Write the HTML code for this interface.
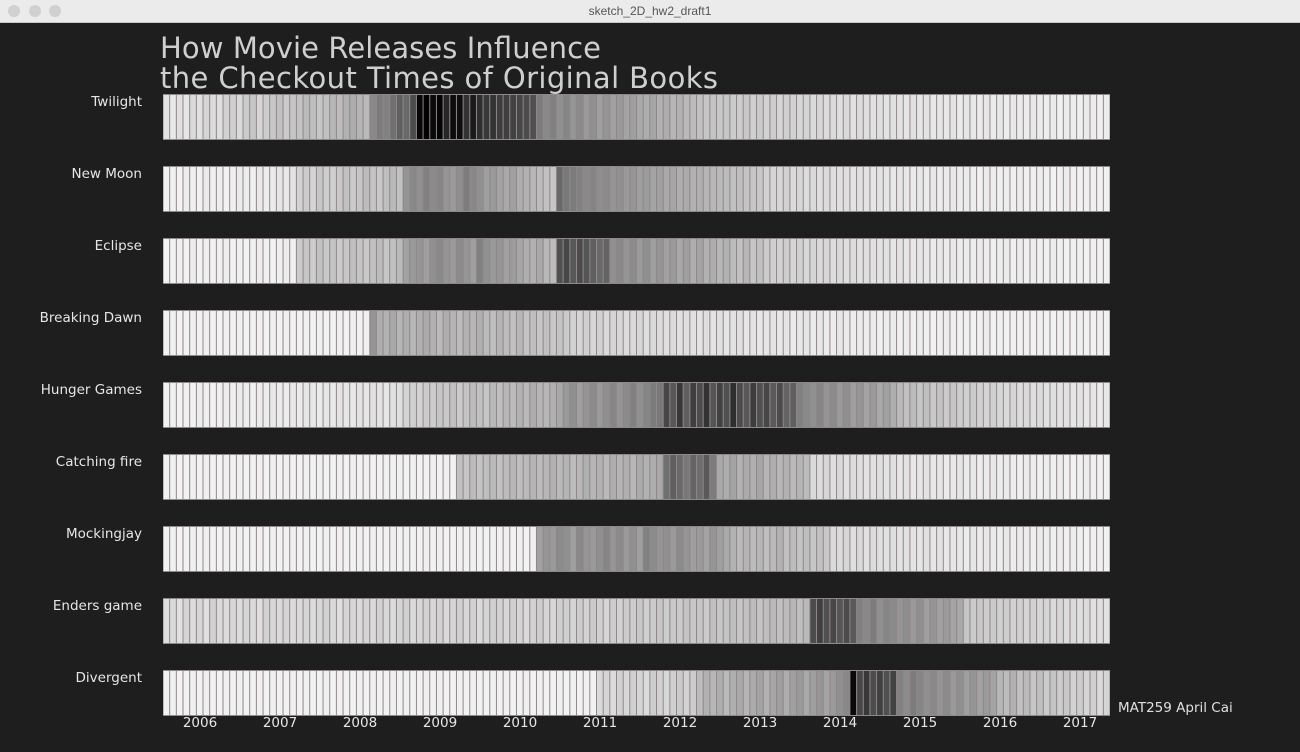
<!DOCTYPE html>
<html><head><meta charset="utf-8"><style>
html,body{margin:0;padding:0;width:1300px;height:752px;overflow:hidden;background:#1e1e1e;font-family:"DejaVu Sans","Liberation Sans",sans-serif}
#bar{position:absolute;left:0;top:0;width:1300px;height:22px;background:#ebebeb;border-bottom:1px solid #c8c8c8}
.dot{position:absolute;top:5px;width:12px;height:12px;border-radius:50%;background:#d0d0d0}
#wt{position:absolute;top:4px;width:1300px;text-align:center;font-size:12px;color:#555;font-family:"Liberation Sans",sans-serif}
svg{position:absolute;left:0;top:0;font-family:"DejaVu Sans","Liberation Sans",sans-serif}
</style></head><body>
<div id="bar">
<div class="dot" style="left:8px"></div>
<div class="dot" style="left:29px"></div>
<div class="dot" style="left:49px"></div>
<div id="wt">sketch_2D_hw2_draft1</div>
</div>
<svg id="chart" width="1300" height="752">
<text x="160" y="58" font-size="29" fill="#cfcfcf" textLength="441">How Movie Releases Influence</text>
<text x="160" y="88" font-size="29" fill="#cfcfcf" textLength="558">the Checkout Times of Original Books</text>
<text x="1118" y="712" font-size="13.5" fill="#e0e0e0">MAT259 April Cai</text>
</svg>
<script>
const books=["Twilight","New Moon","Eclipse","Breaking Dawn","Hunger Games","Catching fire","Mockingjay","Enders game","Divergent"];
const years=["2006","2007","2008","2009","2010","2011","2012","2013","2014","2015","2016","2017"];
const twilight=[8,6,10,7,12,9,14,11,10,15,16,12,18,20,14,17,19,22,18,20,21,25,23,20,22,26,24,28,30,27,25,45,50,48,55,62,58,70,98,100,97,99,85,96,95,80,90,82,78,80,76,75,74,72,70,68,50,45,48,42,46,40,44,38,42,36,40,35,38,34,36,32,30,33,28,30,26,28,25,24,22,20,21,19,20,18,17,19,16,18,15,17,14,16,15,13,14,12,13,11,12,10,12,9,11,10,9,10,8,9,8,7,9,7,8,6,7,6,8,5,7,6,5,7,5,6,4,6,5,4,6,5,4,5,3,5,4,3,5,4,3,4];
const newMoon=[2,3,2,4,3,2,5,3,4,2,3,5,4,3,6,4,5,7,6,8,15,18,14,20,17,16,19,22,18,20,24,21,19,23,25,22,40,45,42,48,44,46,40,38,43,50,45,42,36,38,34,32,35,30,28,26,24,22,20,58,52,50,48,45,47,43,44,40,42,38,40,36,37,34,35,32,33,30,31,28,29,27,26,25,24,22,23,21,20,19,15,14,13,15,12,13,11,12,10,11,10,9,10,8,9,8,7,8,7,6,7,6,5,6,5,6,4,5,6,4,5,4,3,5,4,3,4,3,4,3,3,4,3,2,3,4,3,2,3,3,2,3];
const eclipse=[2,2,3,2,4,2,3,2,3,4,2,3,2,3,4,3,2,3,4,3,18,20,17,22,19,21,18,20,23,21,19,22,24,20,22,25,35,38,40,36,42,45,40,38,44,40,36,48,42,38,40,35,37,33,30,28,32,26,24,68,72,65,70,66,62,58,60,42,45,40,44,38,42,36,40,35,38,32,36,30,34,28,30,26,28,24,22,26,20,22,18,16,15,17,14,15,13,14,12,13,11,12,10,11,9,10,9,8,9,7,8,7,6,7,6,5,6,5,6,4,5,4,5,4,3,4,5,3,4,3,4,3,3,4,3,2,3,3,2,3,2,3];
const breakingDawn=[2,3,2,2,3,2,3,2,2,3,2,3,2,2,3,2,3,2,3,2,2,3,2,3,2,2,3,2,3,2,3,40,30,28,32,27,30,26,29,31,28,25,30,27,24,28,26,29,25,23,27,24,22,26,21,23,20,22,19,21,18,15,14,16,13,15,12,14,13,11,12,13,10,12,11,10,11,9,10,9,8,10,8,9,7,8,9,7,8,6,7,8,6,7,5,6,7,5,6,5,4,6,5,4,5,4,5,3,4,5,3,4,3,4,3,2,3,4,3,2,3,2,3,4,2,3,2,3,2,3,2,3,2,2,3,2,2,3,2,2,3,2];
const hungerGames=[2,3,2,3,2,4,3,2,3,4,3,5,4,3,5,4,6,5,4,6,5,7,6,5,7,6,8,7,6,8,7,9,8,7,9,10,14,16,15,18,17,20,19,22,18,21,24,22,20,25,23,26,24,28,25,30,27,26,29,32,38,42,36,40,44,38,42,46,40,44,48,42,46,50,52,72,65,78,62,75,70,80,66,74,68,82,70,65,76,68,72,64,70,60,62,48,45,42,46,40,44,38,42,36,40,34,38,32,35,30,25,22,24,20,23,19,21,18,20,17,16,18,15,14,16,13,12,14,11,12,10,11,9,10,8,9,7,8,6,7,5,6];
const catchingFire=[2,3,2,2,3,2,3,2,2,3,2,3,2,2,3,2,3,2,3,2,2,3,2,3,2,2,3,2,3,2,3,2,2,3,2,3,2,3,2,2,3,2,3,2,22,20,24,21,23,25,22,24,26,23,25,27,24,26,28,25,27,24,26,29,26,28,25,30,27,29,26,31,28,30,32,55,62,58,52,60,56,64,50,32,30,34,28,31,29,33,27,30,26,28,25,27,24,12,11,13,10,12,9,11,10,8,9,10,8,9,7,8,6,7,8,6,7,5,6,7,5,6,4,5,6,4,5,4,3,5,4,3,4,3,4,3,2,3,4,3,2,3];
const mockingjay=[2,3,2,2,3,2,3,2,2,3,2,3,2,2,3,2,3,2,2,3,2,3,2,2,3,2,3,2,2,3,2,3,2,2,3,2,3,2,2,3,2,3,2,2,3,2,3,2,2,3,2,3,2,3,2,3,35,40,38,44,42,36,45,40,38,42,46,40,44,38,42,36,48,44,40,42,38,44,40,36,38,34,40,36,32,28,25,27,24,26,23,25,28,22,24,21,23,20,22,19,12,11,13,10,12,9,11,10,9,10,8,9,8,7,9,7,8,6,7,6,5,7,5,6,5,4,6,4,5,4,3,5,4,3,4,3,4,3,2,3,3,2];
const endersGame=[10,12,9,14,11,13,10,15,12,11,13,11,14,12,10,15,13,12,14,11,12,14,11,13,15,12,10,14,13,12,14,12,15,13,11,14,16,12,13,15,13,15,12,14,16,13,15,12,14,16,15,13,16,14,12,15,17,14,13,16,16,14,17,15,18,16,14,17,15,18,17,19,16,18,20,17,19,18,21,19,20,18,22,19,21,23,20,22,24,21,23,25,22,24,26,23,25,70,75,68,72,66,70,64,48,45,50,42,46,44,40,43,38,42,36,40,35,38,34,32,20,18,19,17,18,16,17,15,16,14,15,13,14,12,13,11,12,10,11,9,10,9];
const divergent=[2,3,2,2,3,2,3,2,2,3,2,3,2,2,3,2,3,2,2,3,2,3,2,2,3,2,3,2,2,3,2,3,2,2,3,2,3,2,2,3,2,3,2,2,3,2,3,2,2,3,2,3,2,2,3,2,3,2,2,3,2,3,2,3,2,12,14,11,15,13,16,14,12,17,15,13,16,18,15,17,24,28,26,30,25,29,32,27,31,34,28,33,36,30,35,38,32,36,40,34,38,42,45,97,72,78,70,75,68,74,48,44,50,46,42,45,40,44,38,42,36,40,35,38,34,26,24,28,22,25,20,23,18,21,17,19,15,17,14,16,12,14];
const series=[twilight,newMoon,eclipse,breakingDawn,hungerGames,catchingFire,mockingjay,endersGame,divergent];

const NS="http://www.w3.org/2000/svg";
const svg=document.getElementById("chart");
const X0=163,X1=1110,NC=142,Y0=94,ROWSTEP=72,RH=46;
const cw=(X1-X0)/NC;
const xScale=i=>X0+i*cw;
const yScale=r=>Y0+r*ROWSTEP;
const shade=v=>{const g=Math.max(0,Math.min(255,Math.round(247-v*2.45)));return `rgb(${g},${g},${g})`;};
function mk(t,a){const e=document.createElementNS(NS,t);for(const k in a)e.setAttribute(k,a[k]);svg.appendChild(e);return e;}
books.forEach((b,r)=>{
  const y=yScale(r);
  const lab=mk("text",{x:142,y:y+12,"text-anchor":"end","font-size":13.5,fill:"#e6e6e6"});
  lab.textContent=b;
  
  
  const bg=mk("rect",{x:X0,y:y,width:X1-X0,height:RH,fill:"#8f8888"});
  
  
  series[r].forEach((v,i)=>{
    const c=mk("rect",{x:(xScale(i)+0.5).toFixed(2),y:y+1,width:(cw-1).toFixed(2),height:RH-2,fill:shade(v)});
    
    
  });
});
years.forEach((yr,i)=>{
  const t=mk("text",{x:X0+37+i*80,y:727,"text-anchor":"middle","font-size":13.5,fill:"#e6e6e6"});
  t.textContent=yr;
  
  
});
</script>
</body></html>
